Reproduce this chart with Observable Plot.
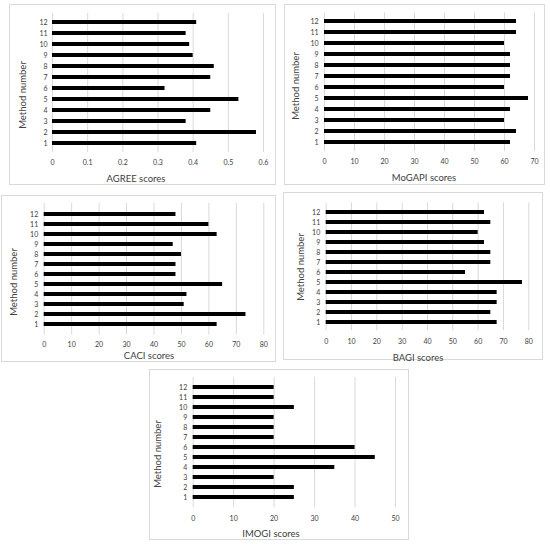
<!DOCTYPE html>
<html>
<head>
<meta charset="utf-8">
<script src="https://cdn.jsdelivr.net/npm/d3@7"></script>
<script src="https://cdn.jsdelivr.net/npm/@observablehq/plot@0.6"></script>
<style>
  html, body { margin: 0; padding: 0; background: #fff; }
  #root { position: relative; width: 550px; height: 544px; background: #fff; font-family: Lato, "Open Sans", sans-serif; color: #404040; overflow: hidden; }
  .box { position: absolute; border: 1px solid #d9d9d9; box-sizing: border-box; }
  .lbl { position: absolute; font-size: 9.5px; white-space: nowrap; transform: translate(-50%, -50%); color: #404040; }
  .ylbl { position: absolute; font-size: 9.5px; white-space: nowrap; transform: translate(-50%, -50%) rotate(-90deg); color: #404040; }
</style>
</head>
<body>
<div id="root"></div>
<script>
const methods = [1, 2, 3, 4, 5, 6, 7, 8, 9, 10, 11, 12];

const agree  = [0.41, 0.58, 0.38, 0.45, 0.53, 0.32, 0.45, 0.46, 0.40, 0.39, 0.38, 0.41];
const mogapi = [62, 64, 60, 62, 68, 60, 62, 62, 62, 60, 64, 64];
const caci   = [63, 73.5, 51, 52, 65, 48, 48, 50, 47, 63, 60, 48];
const bagi   = [67.5, 65, 67.5, 67.5, 77.5, 55, 65, 65, 62.5, 60, 65, 62.5];
const imogi  = [25, 25, 20, 35, 45, 40, 20, 20, 20, 25, 20, 20];

const agreeTicks  = [0, 0.1, 0.2, 0.3, 0.4, 0.5, 0.6];
const mogapiTicks = [0, 10, 20, 30, 40, 50, 60, 70];
const caciTicks   = [0, 10, 20, 30, 40, 50, 60, 70, 80];
const bagiTicks   = [0, 10, 20, 30, 40, 50, 60, 70, 80];
const imogiTicks  = [0, 10, 20, 30, 40, 50];

const xTitles = ["AGREE scores", "MoGAPI scores", "CACI scores", "BAGI scores", "IMOGI scores"];
const yTitle = "Method number";

const root = document.getElementById("root");

const panels = [
  {values: agree,  ticks: agreeTicks,  title: xTitles[0],
   box: [9, 4, 267, 181], m: [9, 13, 33, 43], tp: 8, yp: 5,
   t: [136, 178], yl: [22, 95]},
  {values: mogapi, ticks: mogapiTicks, title: xTitles[1],
   box: [284, 4, 261, 181], m: [8.5, 11, 34, 40], tp: 8, yp: 6,
   t: [424, 177], yl: [295, 86]},
  {values: caci,   ticks: caciTicks,   title: xTitles[2],
   box: [1, 195, 275, 167], m: [7.8, 12.7, 27.5, 42.7], tp: 7.5, yp: 6,
   t: [149, 355], yl: [12.5, 282]},
  {values: bagi,   ticks: bagiTicks,   title: xTitles[3],
   box: [283, 192, 260, 168], m: [10.4, 14.7, 29.7, 42.7], tp: 8.5, yp: 6,
   t: [418, 357], yl: [300, 267]},
  {values: imogi,  ticks: imogiTicks,  title: xTitles[4],
   box: [149, 369, 260, 171], m: [7.9, 14, 32.9, 43.7], tp: 8.5, yp: 6,
   t: [271, 533], yl: [157, 454]}
];

for (const p of panels) {
  const [bx, by, bw, bh] = p.box;
  const border = document.createElement("div");
  border.className = "box";
  Object.assign(border.style, {left: bx + "px", top: by + "px", width: bw + "px", height: bh + "px"});
  root.appendChild(border);

  const data = methods.map((m, i) => ({method: m, value: p.values[i]}));
  const svg = Plot.plot({
    width: bw,
    height: bh,
    marginTop: p.m[0],
    marginRight: p.m[1],
    marginBottom: p.m[2],
    marginLeft: p.m[3],
    style: {fontFamily: "Lato, 'Open Sans', sans-serif", fontSize: "7px", color: "#404040", background: "transparent", overflow: "visible"},
    x: {domain: [0, p.ticks[p.ticks.length - 1]], label: null},
    y: {domain: methods.slice().reverse(), paddingInner: 0.64, paddingOuter: 0.32, label: null},
    marks: [
      Plot.gridX(p.ticks, {stroke: "#d9d9d9", strokeOpacity: 1, strokeWidth: 1}),
      Plot.barX(data, {x: "value", y: "method", fill: "#000"}),
      Plot.axisX(p.ticks, {tickSize: 0, tickPadding: p.tp, tickFormat: d => String(d), label: null, fill: "#404040"}),
      Plot.axisY({tickSize: 0, tickPadding: p.yp, tickFormat: d => String(d), label: null, fill: "#404040"})
    ]
  });
  svg.style.position = "absolute";
  svg.style.left = bx + "px";
  svg.style.top = by + "px";
  svg.style.maxWidth = "none";
  root.appendChild(svg);

  const t = document.createElement("div");
  t.className = "lbl";
  t.textContent = p.title;
  t.style.left = p.t[0] + "px";
  t.style.top = p.t[1] + "px";
  root.appendChild(t);

  const yl = document.createElement("div");
  yl.className = "ylbl";
  yl.textContent = yTitle;
  yl.style.left = p.yl[0] + "px";
  yl.style.top = p.yl[1] + "px";
  root.appendChild(yl);
}
</script>
</body>
</html>
